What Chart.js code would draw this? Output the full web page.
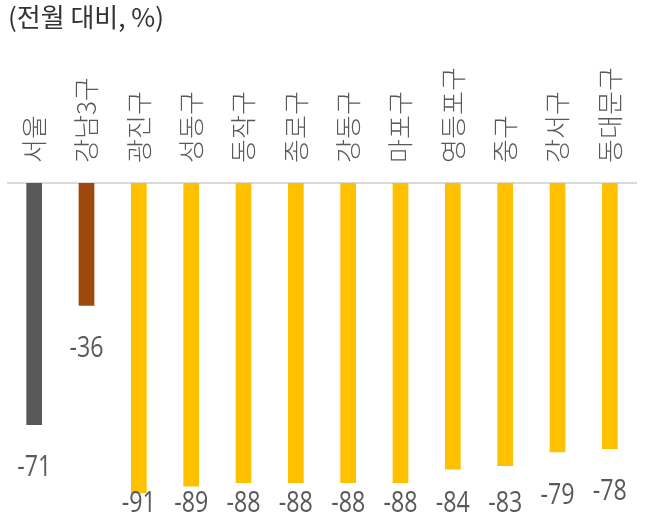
<!DOCTYPE html>
<html>
<head>
<meta charset="utf-8">
<script src="https://cdn.jsdelivr.net/npm/chart.js@4.4.0/dist/chart.umd.min.js"></script>
<style>
  html, body { margin: 0; padding: 0; background: #fff; }
  #wrap { width: 647px; height: 524px; }
</style>
</head>
<body>
<div id="wrap"><canvas id="chart"></canvas></div>
<script>
const districts = ["서울", "강남3구", "광진구", "성동구", "동작구", "종로구", "강동구", "마포구", "영등포구", "중구", "강서구", "동대문구"];
const changes = [-71, -36, -91, -89, -88, -88, -88, -88, -84, -83, -79, -78];
const barColors = ["#595959", "#9E480E", "#FFC000", "#FFC000", "#FFC000", "#FFC000", "#FFC000", "#FFC000", "#FFC000", "#FFC000", "#FFC000", "#FFC000"];
const unitTitle = "(전월 대비, %)";

// value labels under each bar (narrowed a bit like the original)
const valueLabels = {
  id: "valueLabels",
  afterDatasetsDraw(chart) {
    const { ctx, chartArea } = chart;
    const meta = chart.getDatasetMeta(0);
    const sx = 0.8;
    ctx.save();
    ctx.font = '29px "Open Sans", sans-serif';
    ctx.fillStyle = "#595959";
    ctx.textAlign = "center";
    ctx.textBaseline = "middle";
    ctx.scale(sx, 1);
    meta.data.forEach((bar, i) => {
      const y = Math.min(bar.y + 43, chartArea.bottom - 20);
      ctx.fillText(changes[i], bar.x / sx, y);
    });
    ctx.restore();
  }
};

const ctx = document.getElementById("chart").getContext("2d");
new Chart(ctx, {
  type: "bar",
  data: {
    labels: districts,
    datasets: [
      {
        data: changes,
        backgroundColor: barColors,
        borderWidth: 0,
        categoryPercentage: 1,
        barPercentage: 0.3,
      },
    ],
  },
  options: {
    responsive: true,
    maintainAspectRatio: false,
    animation: false,
    layout: { padding: { left: 8, right: 11, top: 0, bottom: 0 } },
    plugins: {
      legend: { display: false },
      tooltip: { enabled: false },
      title: {
        display: true,
        text: unitTitle,
        align: "start",
        color: "#333",
        font: { family: '"Noto Sans CJK KR", sans-serif', size: 26, weight: "normal" },
        padding: { top: 2, bottom: 14 },
      },
    },
    scales: {
      x: {
        position: "top",
        grid: { display: false, drawTicks: false },
        border: { color: "#D9D9D9", width: 2 },
        afterFit: (scale) => {
          scale.paddingLeft = 0;
          scale.paddingRight = 0;
        },
        ticks: {
          color: "#595959",
          minRotation: 90,
          maxRotation: 90,
          padding: 20,
          labelOffset: 31,
          autoSkip: false,
          font: { family: '"Noto Sans CJK KR", sans-serif', size: 26, weight: 300 },
        },
      },
      y: {
        display: false,
        min: -100,
        max: 0,
      },
    },
  },
  plugins: [valueLabels],
});
</script>
</body>
</html>
